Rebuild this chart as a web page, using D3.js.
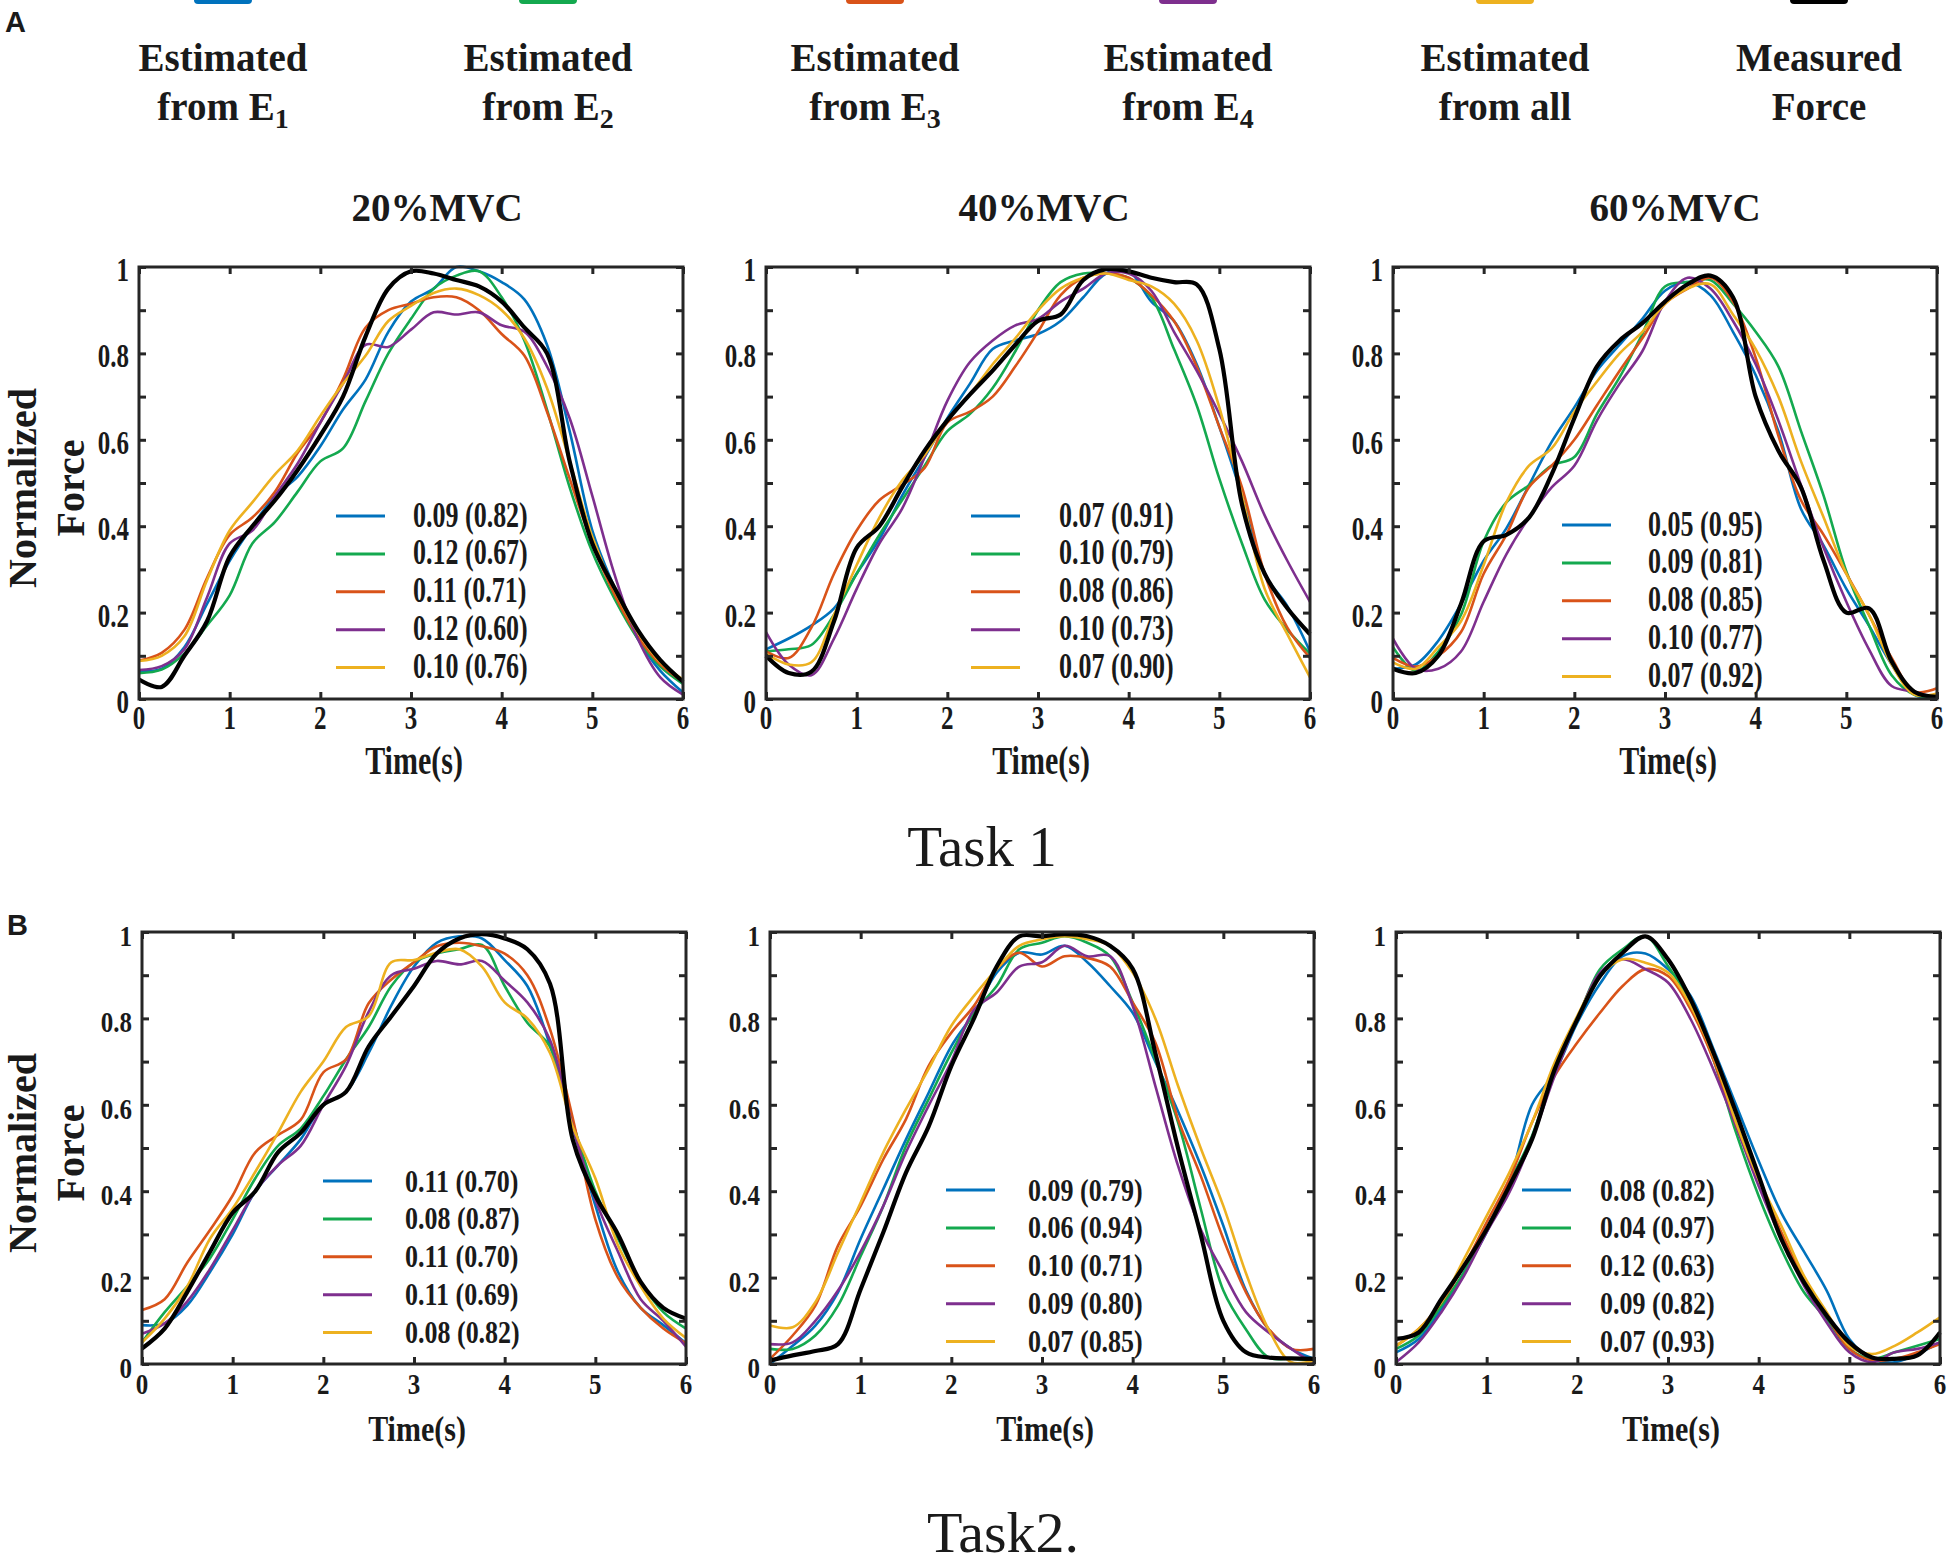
<!DOCTYPE html>
<html>
<head>
<meta charset="utf-8">
<script src="https://cdn.jsdelivr.net/npm/d3@7"></script>
<style>
  body { margin: 0; background: #fff; }
  text { fill: #1a1a1a; }
</style>
</head>
<body>
<svg id="fig" width="1950" height="1568"></svg>
<script>
// sample times (s) shared by every trace
const times = [0,0.25,0.5,0.75,1,1.25,1.5,1.75,2,2.25,2.5,2.75,3,3.25,3.5,3.75,4,4.25,4.5,4.75,5,5.25,5.5,5.75,6];

const seriesNames = ["Estimated|from E|1", "Estimated|from E|2", "Estimated|from E|3", "Estimated|from E|4", "Estimated|from all|", "Measured|Force|"];
const levelTitles = ["20%MVC", "40%MVC", "60%MVC"];
const xTicks = [0,1,2,3,4,5,6];
const yLabelTicks = [0,0.2,0.4,0.6,0.8,1];
const yMinorTicks = [0,0.1,0.2,0.3,0.4,0.5,0.6,0.7,0.8,0.9,1];

// Task 1, 20%MVC
const a20_e1 = [0.065,0.07,0.12,0.22,0.32,0.40,0.47,0.515,0.585,0.67,0.74,0.85,0.92,0.95,1.0,0.99,0.965,0.925,0.82,0.62,0.39,0.255,0.14,0.065,0.015];
const a20_e2 = [0.06,0.068,0.105,0.17,0.24,0.36,0.41,0.48,0.55,0.58,0.69,0.80,0.88,0.95,0.98,0.99,0.93,0.83,0.67,0.49,0.34,0.23,0.14,0.075,0.035];
const a20_e3 = [0.089,0.107,0.16,0.28,0.38,0.42,0.48,0.57,0.64,0.74,0.86,0.90,0.915,0.93,0.93,0.90,0.845,0.795,0.665,0.51,0.36,0.24,0.145,0.08,0.04];
const a20_e4 = [0.067,0.076,0.115,0.235,0.36,0.39,0.47,0.545,0.64,0.73,0.82,0.815,0.855,0.895,0.89,0.895,0.865,0.85,0.77,0.65,0.47,0.285,0.14,0.05,0.01];
const a20_all = [0.088,0.10,0.145,0.275,0.39,0.455,0.52,0.575,0.655,0.73,0.795,0.875,0.91,0.94,0.95,0.935,0.90,0.835,0.72,0.55,0.375,0.25,0.155,0.085,0.045];
const a20_force = [0.045,0.028,0.10,0.18,0.33,0.40,0.46,0.53,0.61,0.70,0.84,0.95,0.99,0.985,0.97,0.955,0.92,0.86,0.80,0.55,0.36,0.255,0.16,0.09,0.04];
const a20_stats = ["0.09 (0.82)","0.12 (0.67)","0.11 (0.71)","0.12 (0.60)","0.10 (0.76)"];

// Task 1, 40%MVC
const a40_e1 = [0.115,0.14,0.17,0.21,0.29,0.37,0.47,0.56,0.65,0.73,0.81,0.83,0.845,0.875,0.93,0.985,0.99,0.92,0.875,0.775,0.63,0.47,0.29,0.215,0.11];
const a40_e2 = [0.11,0.115,0.125,0.195,0.29,0.38,0.46,0.54,0.62,0.66,0.72,0.805,0.90,0.965,0.985,0.985,0.975,0.93,0.81,0.68,0.51,0.36,0.23,0.16,0.105];
const a40_e3 = [0.11,0.095,0.165,0.29,0.39,0.46,0.495,0.535,0.64,0.665,0.70,0.77,0.85,0.935,0.975,0.985,0.975,0.935,0.875,0.77,0.63,0.49,0.29,0.165,0.095];
const a40_e4 = [0.155,0.08,0.055,0.14,0.255,0.36,0.44,0.56,0.69,0.78,0.83,0.865,0.88,0.92,0.95,0.985,0.985,0.945,0.85,0.76,0.66,0.55,0.425,0.32,0.225];
const a40_all = [0.105,0.08,0.085,0.195,0.31,0.42,0.505,0.565,0.645,0.705,0.775,0.835,0.90,0.95,0.975,0.985,0.97,0.955,0.915,0.83,0.675,0.47,0.255,0.15,0.05];
const a40_force = [0.10,0.06,0.063,0.18,0.35,0.40,0.49,0.575,0.645,0.705,0.76,0.82,0.875,0.89,0.97,0.995,0.99,0.975,0.965,0.96,0.81,0.45,0.29,0.21,0.15];
const a40_stats = ["0.07 (0.91)","0.10 (0.79)","0.08 (0.86)","0.10 (0.73)","0.07 (0.90)"];

// Task 1, 60%MVC
const a60_e1 = [0.07,0.08,0.135,0.22,0.32,0.395,0.495,0.595,0.675,0.76,0.82,0.88,0.945,0.965,0.935,0.85,0.75,0.62,0.44,0.355,0.255,0.17,0.08,0.01,0.002];
const a60_e2 = [0.12,0.065,0.11,0.195,0.365,0.455,0.495,0.54,0.56,0.66,0.745,0.845,0.955,0.965,0.97,0.915,0.85,0.77,0.62,0.47,0.295,0.17,0.055,0.01,0.005];
const a60_e3 = [0.095,0.075,0.10,0.155,0.29,0.38,0.49,0.54,0.60,0.68,0.76,0.835,0.915,0.95,0.975,0.92,0.79,0.61,0.46,0.38,0.29,0.195,0.095,0.017,0.025];
const a60_e4 = [0.14,0.07,0.07,0.11,0.225,0.335,0.42,0.49,0.54,0.645,0.73,0.805,0.92,0.975,0.95,0.875,0.775,0.645,0.495,0.35,0.225,0.115,0.03,0.017,0.002];
const a60_all = [0.085,0.07,0.12,0.18,0.31,0.455,0.54,0.58,0.665,0.735,0.80,0.85,0.915,0.95,0.96,0.89,0.81,0.70,0.55,0.42,0.29,0.195,0.08,0.01,0.013];
const a60_force = [0.07,0.06,0.10,0.22,0.365,0.38,0.42,0.52,0.65,0.77,0.83,0.87,0.92,0.96,0.98,0.93,0.70,0.575,0.49,0.32,0.20,0.21,0.087,0.017,0.005];
const a60_stats = ["0.05 (0.95)","0.09 (0.81)","0.08 (0.85)","0.10 (0.77)","0.07 (0.92)"];

// Task 2, 20%MVC
const b20_e1 = [0.09,0.094,0.136,0.213,0.30,0.40,0.46,0.52,0.60,0.63,0.72,0.83,0.92,0.975,0.99,0.985,0.935,0.875,0.737,0.55,0.367,0.213,0.13,0.09,0.048];
const b20_e2 = [0.05,0.12,0.18,0.245,0.335,0.43,0.505,0.545,0.62,0.705,0.78,0.875,0.93,0.95,0.96,0.97,0.875,0.79,0.735,0.56,0.40,0.29,0.19,0.12,0.082];
const b20_e3 = [0.125,0.15,0.235,0.31,0.39,0.49,0.53,0.565,0.675,0.705,0.835,0.89,0.93,0.967,0.975,0.967,0.95,0.90,0.775,0.57,0.335,0.20,0.13,0.082,0.048];
const b20_e4 = [0.07,0.094,0.145,0.22,0.31,0.40,0.46,0.505,0.60,0.69,0.815,0.90,0.915,0.933,0.925,0.933,0.887,0.837,0.75,0.55,0.38,0.26,0.15,0.10,0.04];
const b20_all = [0.05,0.105,0.18,0.29,0.36,0.445,0.535,0.63,0.70,0.78,0.805,0.93,0.935,0.952,0.96,0.92,0.837,0.80,0.72,0.55,0.43,0.275,0.18,0.105,0.06];
const b20_force = [0.036,0.082,0.167,0.26,0.35,0.40,0.49,0.535,0.60,0.63,0.735,0.805,0.875,0.95,0.985,0.995,0.985,0.96,0.88,0.52,0.39,0.30,0.19,0.13,0.105];
const b20_stats = ["0.11 (0.70)","0.08 (0.87)","0.11 (0.70)","0.11 (0.69)","0.08 (0.82)"];

// Task 2, 40%MVC
const b40_e1 = [0.0,0.042,0.089,0.166,0.29,0.405,0.52,0.628,0.736,0.813,0.906,0.952,0.948,0.968,0.93,0.875,0.813,0.70,0.585,0.46,0.32,0.17,0.08,0.035,0.012];
const b40_e2 = [0.035,0.035,0.066,0.135,0.25,0.366,0.505,0.613,0.72,0.813,0.875,0.96,0.975,0.99,0.975,0.944,0.837,0.705,0.56,0.36,0.17,0.08,0.015,0.012,0.008];
const b40_e3 = [0.012,0.066,0.135,0.274,0.366,0.474,0.567,0.69,0.767,0.829,0.914,0.952,0.92,0.944,0.94,0.92,0.837,0.744,0.567,0.436,0.29,0.166,0.081,0.035,0.035];
const b40_e4 = [0.046,0.05,0.10,0.17,0.26,0.366,0.49,0.598,0.70,0.82,0.86,0.92,0.93,0.968,0.944,0.944,0.829,0.644,0.459,0.312,0.212,0.12,0.073,0.035,0.0];
const b40_all = [0.089,0.085,0.143,0.258,0.374,0.49,0.59,0.683,0.783,0.852,0.914,0.968,0.983,0.99,0.983,0.968,0.906,0.80,0.644,0.50,0.366,0.21,0.08,0.004,0.008];
const b40_force = [0.008,0.02,0.03,0.046,0.173,0.305,0.443,0.55,0.69,0.80,0.92,0.99,0.99,0.995,0.99,0.968,0.915,0.72,0.50,0.30,0.10,0.027,0.015,0.013,0.012];
const b40_stats = ["0.09 (0.79)","0.06 (0.94)","0.10 (0.71)","0.09 (0.80)","0.07 (0.85)"];

// Task 2, 60%MVC
const b60_e1 = [0.027,0.058,0.127,0.212,0.305,0.42,0.60,0.675,0.79,0.88,0.944,0.95,0.914,0.852,0.73,0.60,0.47,0.35,0.26,0.17,0.058,0.012,0.004,0.023,0.05];
const b60_e2 = [0.035,0.066,0.135,0.212,0.312,0.42,0.528,0.682,0.798,0.914,0.96,0.99,0.921,0.837,0.705,0.536,0.389,0.266,0.166,0.104,0.035,0.012,0.027,0.042,0.058];
const b60_e3 = [0.042,0.081,0.143,0.227,0.328,0.428,0.559,0.667,0.744,0.813,0.875,0.914,0.898,0.821,0.705,0.551,0.428,0.305,0.197,0.112,0.035,0.008,0.012,0.027,0.046];
const b60_e4 = [0.004,0.05,0.12,0.204,0.305,0.397,0.52,0.667,0.798,0.906,0.937,0.914,0.883,0.798,0.682,0.551,0.412,0.289,0.181,0.096,0.027,0.004,0.027,0.035,0.05];
const b60_all = [0.042,0.081,0.143,0.243,0.343,0.443,0.559,0.698,0.806,0.898,0.937,0.929,0.906,0.829,0.713,0.559,0.428,0.32,0.204,0.12,0.042,0.023,0.042,0.073,0.108];
const b60_force = [0.058,0.073,0.15,0.227,0.312,0.412,0.52,0.682,0.798,0.898,0.952,0.99,0.937,0.844,0.721,0.582,0.436,0.289,0.189,0.112,0.05,0.015,0.012,0.02,0.073];
const b60_stats = ["0.08 (0.82)","0.04 (0.97)","0.12 (0.63)","0.09 (0.82)","0.07 (0.93)"];

// ---- layout / style ----
const colors = ["#0072BD", "#14A94F", "#D95319", "#7E2F8E", "#EDB120", "#000000"];
const serif = "'Liberation Serif','Times New Roman',serif";
const frameColor = "#262626";
const plotW = 544, plotH = 432;

// per row: panel text in the source is drawn tall and narrow
const rows = [
  {top: 267, stretch: 1.35, timeDy: 75},
  {top: 932, stretch: 1.2, timeDy: 77}
];

const panels = [
  {left: 139, row: 0, series: [a20_e1,a20_e2,a20_e3,a20_e4,a20_all,a20_force], stats: a20_stats, leg: [197, 274, 249]},
  {left: 766, row: 0, series: [a40_e1,a40_e2,a40_e3,a40_e4,a40_all,a40_force], stats: a40_stats, leg: [205, 293, 249]},
  {left: 1393, row: 0, series: [a60_e1,a60_e2,a60_e3,a60_e4,a60_all,a60_force], stats: a60_stats, leg: [169, 255, 258]},
  {left: 142, row: 1, series: [b20_e1,b20_e2,b20_e3,b20_e4,b20_all,b20_force], stats: b20_stats, leg: [181, 263, 249]},
  {left: 770, row: 1, series: [b40_e1,b40_e2,b40_e3,b40_e4,b40_all,b40_force], stats: b40_stats, leg: [176, 258, 258]},
  {left: 1396, row: 1, series: [b60_e1,b60_e2,b60_e3,b60_e4,b60_all,b60_force], stats: b60_stats, leg: [126, 204, 258]}
];
const titleX = [437, 1044, 1675];

const svg = d3.select("#fig");

const x = d3.scaleLinear().domain([0, 6]).range([0, plotW]);
const y = d3.scaleLinear().domain([0, 1]).range([plotH, 0]);

const line = d3.line()
  .x((d, i) => x(times[i]))
  .y(d => y(d))
  .curve(d3.curveCatmullRom.alpha(0.5));

function tallText(g, px, py, str, size, anchor, k) {
  return g.append("text")
    .attr("transform", `translate(${px},${py}) scale(1,${k})`)
    .attr("text-anchor", anchor)
    .style("font-family", serif)
    .style("font-weight", "bold")
    .style("font-size", size + "px")
    .text(str);
}

// header legend
const headX = [223, 548, 875, 1188, 1505, 1819];
seriesNames.forEach((name, i) => {
  const parts = name.split("|");
  svg.append("line")
    .attr("x1", headX[i] - 25).attr("x2", headX[i] + 25)
    .attr("y1", 0).attr("y2", 0)
    .attr("stroke", colors[i]).attr("stroke-width", 8)
    .attr("stroke-linecap", "round");
  svg.append("text")
    .attr("x", headX[i]).attr("y", 71)
    .attr("text-anchor", "middle")
    .style("font-family", serif).style("font-weight", "bold").style("font-size", "39px")
    .text(parts[0]);
  const t2 = svg.append("text")
    .attr("x", headX[i]).attr("y", 120)
    .attr("text-anchor", "middle")
    .style("font-family", serif).style("font-weight", "bold").style("font-size", "39px");
  t2.append("tspan").text(parts[1]);
  if (parts[2]) t2.append("tspan").attr("dy", 8).style("font-size", "28px").text(parts[2]);
});

// panel letters
svg.append("text").attr("x", 5).attr("y", 32)
  .style("font-family", "'Liberation Sans',Arial,sans-serif").style("font-weight", "bold").style("font-size", "29px")
  .text("A");
svg.append("text").attr("x", 7).attr("y", 935)
  .style("font-family", "'Liberation Sans',Arial,sans-serif").style("font-weight", "bold").style("font-size", "29px")
  .text("B");

// level titles
levelTitles.forEach((t, i) => {
  svg.append("text").attr("x", titleX[i]).attr("y", 221)
    .attr("text-anchor", "middle")
    .style("font-family", serif).style("font-weight", "bold").style("font-size", "39px")
    .text(t);
});

// task captions
svg.append("text").attr("x", 982).attr("y", 866).attr("text-anchor", "middle")
  .style("font-family", serif).style("font-size", "57px").text("Task 1");
svg.append("text").attr("x", 1003).attr("y", 1552).attr("text-anchor", "middle")
  .style("font-family", serif).style("font-size", "58px").text("Task2.");

panels.forEach((p, pi) => {
  const r = rows[p.row];
  const g = svg.append("g").attr("transform", `translate(${p.left},${r.top})`);

  // traces: estimates first, measured force on top
  p.series.forEach((s, i) => {
    g.append("path")
      .datum(s)
      .attr("fill", "none")
      .attr("stroke", colors[i])
      .attr("stroke-width", i === 5 ? 4.2 : 2.6)
      .attr("stroke-linejoin", "round")
      .attr("d", line);
  });

  // inward ticks on all four sides
  const tickStyle = sel => {
    sel.select(".domain").remove();
    sel.selectAll("line").attr("stroke", frameColor).attr("stroke-width", 3);
  };
  g.append("g").call(d3.axisLeft(y).tickValues(yMinorTicks).tickSize(-7).tickFormat("")).call(tickStyle);
  g.append("g").attr("transform", `translate(${plotW},0)`)
    .call(d3.axisRight(y).tickValues(yMinorTicks).tickSize(-7).tickFormat("")).call(tickStyle);
  g.append("g").attr("transform", `translate(0,${plotH})`)
    .call(d3.axisBottom(x).tickValues(xTicks).tickSize(-7).tickFormat("")).call(tickStyle);
  g.append("g").call(d3.axisTop(x).tickValues(xTicks).tickSize(-7).tickFormat("")).call(tickStyle);

  g.append("rect")
    .attr("width", plotW).attr("height", plotH)
    .attr("fill", "none").attr("stroke", frameColor).attr("stroke-width", 3);

  // tick labels
  yLabelTicks.forEach(v => tallText(g, -10, y(v) + 14, d3.format("~g")(v), 25, "end", r.stretch));
  xTicks.forEach(v => tallText(g, x(v), plotH + 30, v, 25, "middle", r.stretch));
  tallText(g, plotW / 2 + 3, plotH + r.timeDy, "Time(s)", 30, "middle", r.stretch);

  // in-panel legend of error (correlation)
  p.stats.forEach((s, i) => {
    const ry = p.leg[2] + i * 37.9;
    g.append("line")
      .attr("x1", p.leg[0]).attr("x2", p.leg[0] + 49)
      .attr("y1", ry).attr("y2", ry)
      .attr("stroke", colors[i]).attr("stroke-width", 3);
    tallText(g, p.leg[1], ry + 10.5, s, 26, "start", r.stretch);
  });

  // y axis title on the left column only
  if (pi === 0 || pi === 3) {
    const cy = plotH / 2 + 5;
    g.append("text")
      .attr("transform", `translate(${36 - p.left},${cy}) rotate(-90)`)
      .attr("text-anchor", "middle")
      .style("font-family", serif).style("font-weight", "bold").style("font-size", "40px")
      .text("Normalized");
    g.append("text")
      .attr("transform", `translate(${84 - p.left},${cy}) rotate(-90)`)
      .attr("text-anchor", "middle")
      .style("font-family", serif).style("font-weight", "bold").style("font-size", "40px")
      .text("Force");
  }
});
</script>
</body>
</html>
